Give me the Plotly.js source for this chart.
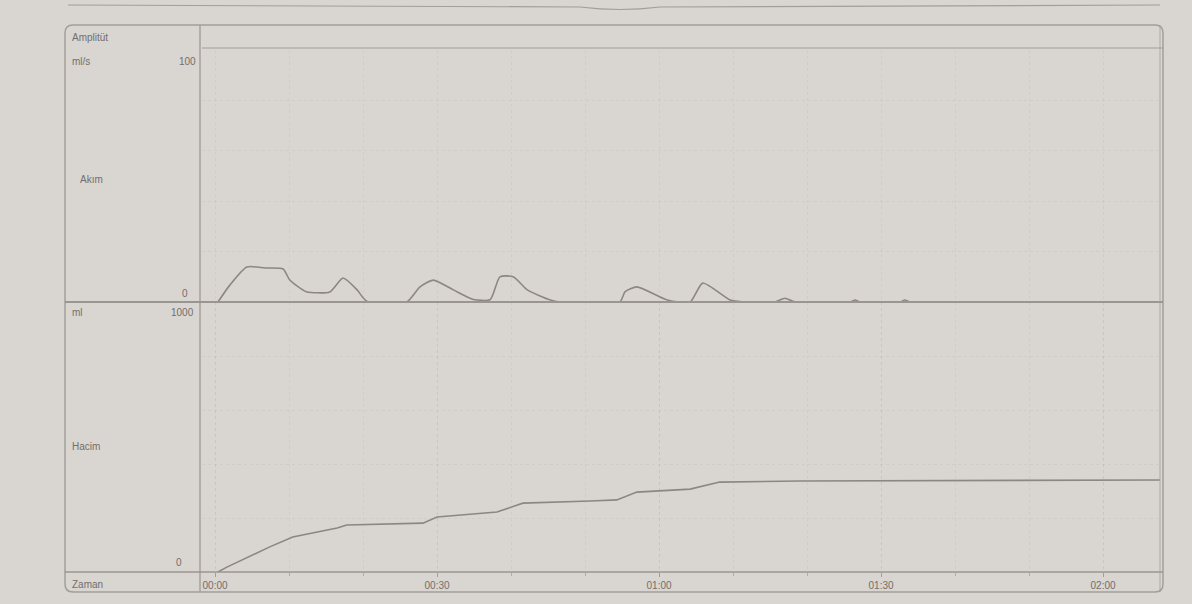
<!DOCTYPE html>
<html><head><meta charset="utf-8">
<script src="https://cdn.plot.ly/plotly-3.0.1.min.js"></script>
<style>body{margin:0;background:#d9d5d1;}#c{width:1192px;height:604px;}</style>
</head><body><div id="c"></div>
<script>
// Akım (ml/s) vs time (s)
const flowTime = [0.4, 2.0, 4.3, 6.8, 9.2, 10.1, 11.5, 12.4, 15.5, 17.3, 19.2, 20.5, 25.9, 27.7, 29.5, 32.2, 34.9, 37.2, 38.5, 40.3, 42.2, 45.3, 46.6, 54.7, 55.4, 57.0, 61.1, 64.2, 65.9, 69.6, 71.6, 75.7, 77.0, 78.4, 85.8, 86.5, 87.2, 92.6, 93.2, 93.9];
const flowVal  = [0,   6.7, 13.9, 13.5, 13.1, 8.7,  5.5,  4.0,  4.0,  9.5,  4.8,  0.3,  0,    6.0,  8.7,  4.8,  1.0,  1.0,  10.0, 10.0, 4.8,  0.8,  0,    0,    4.0,  6.0,  0.8,  0,    7.5,  0.8,  0,    0,    1.5,  0,    0,    0.8,  0,    0,    0.8,  0];
// Hacim (ml) vs time (s)
const volTime = [0.4, 1.6, 7.4, 10.5, 16.5, 17.8, 28.1, 30.0, 38.1, 41.6, 50.7, 54.3, 57.0, 64.2, 68.2, 79.0, 127.7];
const volVal  = [0,   18,  93,  130,  163,  174,  181,  204,  222,  255,  263,  267,  296,  307,  333,  337,  341];
// Time tick labels
const tickSec = [0, 30, 60, 90, 120];
const tickTxt = ['00:00', '00:30', '01:00', '01:30', '02:00'];

const W = 1192, H = 604;
const px = x => x / W, py = y => 1 - y / H;
const lineC = '#a29e9a', txtC = '#736f6c', curveC = '#8c8784';
const fnt = {family: 'Liberation Sans, Arial, sans-serif', size: 10, color: txtC};

function hl(y, x0, x1, w, c) {
  return {type: 'line', xref: 'paper', yref: 'paper', x0: px(x0), x1: px(x1), y0: py(y), y1: py(y), line: {color: c || lineC, width: w || 1.2}};
}
function vl(x, y0, y1, w, c) {
  return {type: 'line', xref: 'paper', yref: 'paper', x0: px(x), x1: px(x), y0: py(y0), y1: py(y1), line: {color: c || lineC, width: w || 1.2}};
}
function ann(text, x, y, xa) {
  return {text: text, xref: 'paper', yref: 'paper', x: px(x), y: py(y), xanchor: xa || 'left', yanchor: 'middle', showarrow: false, font: fnt};
}

const shapes = [
  {type: 'path', xref: 'paper', yref: 'paper',
   path: `M ${px(73)},${py(25)} L ${px(1155)},${py(25)} Q ${px(1163)},${py(25)} ${px(1163)},${py(33)} L ${px(1163)},${py(584)} Q ${px(1163)},${py(592)} ${px(1155)},${py(592)} L ${px(73)},${py(592)} Q ${px(65)},${py(592)} ${px(65)},${py(584)} L ${px(65)},${py(33)} Q ${px(65)},${py(25)} ${px(73)},${py(25)} Z`,
   line: {color: lineC, width: 1.5}},
  {type: 'path', xref: 'paper', yref: 'paper',
   path: `M ${px(68)},${py(5)} L ${px(580)},${py(7)} Q ${px(620)},${py(12)} ${px(660)},${py(7)} L ${px(1160)},${py(5)}`,
   line: {color: lineC, width: 1.2}},
  hl(48, 202, 1163, 1.2),
  vl(200, 25, 592, 1.4),
  hl(302, 65, 1163, 2, '#9a9591'),
  hl(572, 65, 1163, 1.6, '#9a9591'),
  vl(1160, 25, 592, 0.8)
];

const annotations = [
  ann('Amplitüt', 70, 38),
  ann('ml/s', 70, 61),
  ann('100', 198, 61, 'right'),
  ann('Akım', 78, 180),
  ann('0', 190, 294, 'right'),
  ann('ml', 70, 312),
  ann('1000', 196, 312, 'right'),
  ann('Hacim', 70, 447),
  ann('0', 184, 562, 'right'),
  ann('Zaman', 70, 584)
];

const xr = [-1.76, 127.7];
const data = [
  {x: flowTime, y: flowVal, xaxis: 'x', yaxis: 'y', mode: 'lines', line: {color: curveC, width: 1.6, shape: 'spline', smoothing: 0.6}, hoverinfo: 'skip'},
  {x: volTime, y: volVal, xaxis: 'x2', yaxis: 'y2', mode: 'lines', line: {color: curveC, width: 1.6}, hoverinfo: 'skip'}
];

const gridC = 'rgba(150,145,140,0.12)';
const layout = {
  width: W, height: H,
  margin: {l: 0, r: 0, t: 0, b: 0},
  paper_bgcolor: '#d9d5d1', plot_bgcolor: '#d9d5d1',
  showlegend: false,
  xaxis: {domain: [px(202), px(1160)], range: xr, anchor: 'y', showticklabels: false, showline: false, zeroline: false,
          showgrid: true, gridcolor: gridC, griddash: 'dot', dtick: 10, tick0: 0, ticks: ''},
  yaxis: {domain: [py(302), py(50)], range: [0, 100], showticklabels: false, zeroline: false, showline: false,
          showgrid: true, gridcolor: gridC, griddash: 'dot', dtick: 20},
  xaxis2: {domain: [px(202), px(1160)], range: xr, anchor: 'y2', showline: false, zeroline: false,
           showgrid: true, gridcolor: gridC, griddash: 'dot',
           tickmode: 'array', tickvals: tickSec, ticktext: tickTxt, ticks: 'outside', ticklen: 4, tickcolor: lineC,
           minor: {dtick: 10, tick0: 0, ticks: 'outside', ticklen: 3, tickcolor: 'rgba(150,145,140,0.6)', showgrid: true, gridcolor: gridC, griddash: 'dot'},
           tickfont: fnt},
  yaxis2: {domain: [py(572), py(302)], range: [0, 1000], showticklabels: false, zeroline: false, showline: false,
           showgrid: true, gridcolor: gridC, griddash: 'dot', dtick: 200},
  shapes: shapes,
  annotations: annotations
};
Plotly.newPlot('c', data, layout, {staticPlot: true, displayModeBar: false});
</script></body></html>
